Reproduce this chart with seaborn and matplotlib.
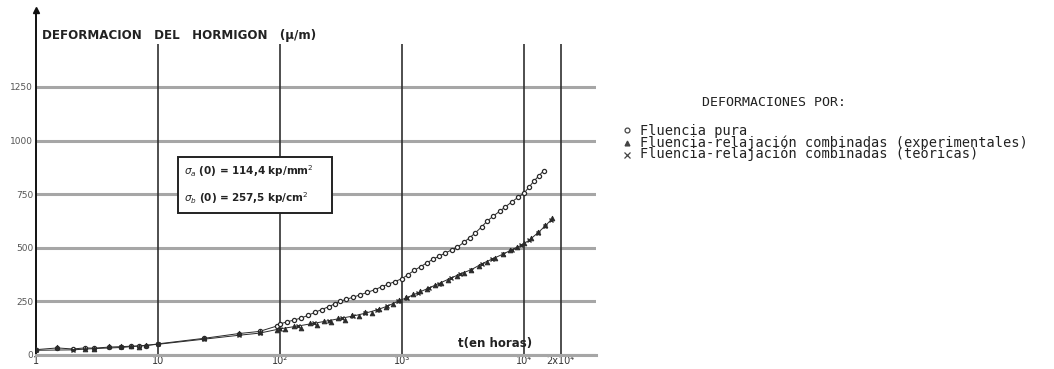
import matplotlib
matplotlib.use("Agg")
import matplotlib.pyplot as plt
import seaborn as sns
import pandas as pd
from matplotlib.patches import Rectangle

# ---- data ----
t_pura = [1, 1.5, 2, 2.5, 3, 4, 5, 6, 7, 8, 10, 24, 46, 68, 94,
          100, 115, 130, 150, 170, 195, 220, 250, 280, 310, 350, 400, 450, 520,
          600, 680, 770, 870, 1000, 1120, 1260, 1420, 1600, 1800, 2000, 2250,
          2550, 2850, 3200, 3600, 4000, 4500, 5000, 5600, 6300, 7000, 7900,
          8900, 10000, 11000, 12000, 13200, 14500]
v_pura = [25, 33, 28, 33, 32, 37, 39, 41, 42, 44, 52, 78, 100, 110, 135,
          145, 155, 163, 173, 185, 200, 212, 225, 238, 250, 260, 270, 280, 292,
          305, 318, 330, 342, 356, 375, 395, 412, 430, 447, 460, 475,
          490, 503, 525, 548, 570, 598, 625, 648, 670, 690, 713,
          735, 755, 783, 810, 835, 860]

t_exp = [1, 1.5, 2.5, 3, 4, 5, 6, 7, 8, 24, 46, 68, 94, 110, 130, 150, 175,
         200, 230, 260, 300, 340, 390, 440, 500, 570, 650, 740, 840, 950,
         1080, 1230, 1400, 1600, 1850, 2100, 2400, 2800, 3200, 3700, 4300,
         5000, 5800, 6700, 7700, 8800, 10000, 11500, 13000, 15000, 17000]
v_exp = [28, 38, 30, 28, 40, 44, 41, 39, 46, 80, 102, 106, 118, 120, 135,
         128, 150, 140, 160, 155, 172, 165, 186, 180, 200, 196, 215, 226,
         236, 255, 270, 285, 298, 310, 325, 338, 352, 368, 382, 395, 415,
         435, 452, 470, 488, 505, 522, 548, 575, 608, 641]

t_teo = [1, 2, 3, 5, 10, 24, 46, 68, 100, 140, 190, 250, 320, 400, 500,
         620, 760, 920, 1100, 1350, 1650, 2000, 2500, 3000, 3700, 4500,
         5500, 6700, 8000, 9500, 11000, 13000, 15000, 16500]
v_teo = [22, 24, 30, 35, 50, 74, 92, 102, 122, 135, 148, 160, 172, 182, 195,
         210, 228, 250, 268, 290, 312, 333, 358, 378, 398, 425,
         448, 470, 492, 512, 535, 570, 603, 628]

x_ticks = [1, 10, 100, 1000, 10000, 20000]
x_tick_labels = ["1", "10", "10²", "10³", "10⁴", "2x10⁴"]
y_ticks = [0, 250, 500, 750, 1000, 1250]
y_tick_labels = ["0", "250", "500", "750", "1000", "1250"]

legend_title = "DEFORMACIONES POR:"
legend_labels = ["Fluencia pura",
                 "Fluencia-relajación combinadas (experimentales)",
                 "Fluencia-relajación combinadas (teóricas)"]

# ---- figure ----
sns.set_theme(style="white")
plt.rcParams['font.family'] = ['DejaVu Sans']
plt.rcParams['mathtext.fontset'] = 'dejavusans'

W, H = 1054, 369
fig = plt.figure(figsize=(W / 100, H / 100), dpi=100)
fig.patch.set_facecolor("white")

def fx(px):
    return px / W

def fy(py):
    return 1 - py / H

ax = fig.add_axes([fx(36), fy(355), fx(596) - fx(36), fy(10) - fy(355)])
ax.set_xscale("log")
ax.set_xlim(1, 10 ** ((596 - 36) / 122.0))
ax.set_ylim(0, 345 / 53.6 * 250)

ink = "#2a2a2a"
df_p = pd.DataFrame({"t": t_pura, "v": v_pura})
df_e = pd.DataFrame({"t": t_exp, "v": v_exp})
df_t = pd.DataFrame({"t": t_teo, "v": v_teo})

sns.lineplot(data=df_p, x="t", y="v", ax=ax, color=ink, lw=0.7,
             marker="o", markersize=3.0, markerfacecolor="white",
             markeredgecolor=ink, markeredgewidth=0.9, estimator=None,
             sort=True, zorder=4)
sns.lineplot(data=df_t, x="t", y="v", ax=ax, color=ink, lw=0.7,
             marker="x", markersize=3.5, markeredgecolor=ink,
             markeredgewidth=1.0, estimator=None, sort=True, zorder=4)
sns.lineplot(data=df_e, x="t", y="v", ax=ax, color=ink, lw=0.0,
             marker="^", markersize=3.4, markerfacecolor=ink,
             markeredgecolor=ink, markeredgewidth=0.6, estimator=None,
             sort=True, zorder=5)

# grid / frame
ax.set_yticks(y_ticks)
ax.set_yticklabels(y_tick_labels, fontsize=6.5, color="#555555")
ax.set_xticks(x_ticks)
ax.set_xticklabels(x_tick_labels, fontsize=7, color="#333333")
ax.minorticks_off()
ax.tick_params(axis="both", length=0)
ax.tick_params(axis="y", pad=2)
ax.tick_params(axis="x", pad=1)
ax.grid(False)
for yv in y_ticks:
    ax.axhline(yv, color="#a6a6a6", lw=2.2, zorder=1)
ax.vlines([10, 100, 1000, 10000, 20000], 0, 1450, color="#303030",
          lw=1.2, zorder=2)
ax.set_xlabel("")
ax.set_ylabel("")
for s in ["top", "right"]:
    ax.spines[s].set_visible(False)
ax.spines["bottom"].set_color("#a6a6a6")
ax.spines["bottom"].set_linewidth(2.2)
ax.spines["left"].set_color("#111111")
ax.spines["left"].set_linewidth(1.4)
ax.plot([0], [1], marker="^", color="#111111", markersize=5,
        transform=ax.transAxes, clip_on=False, zorder=6)

# axis titles
fig.text(fx(42), fy(35), "DEFORMACION   DEL   HORMIGON   (μ/m)",
         fontsize=8.6, weight="bold", va="center", ha="left", color="#222222")
fig.text(fx(458), fy(343), "t(en horas)", fontsize=8.5, weight="bold",
         va="center", ha="left", color="#222222")

# stress box
box = Rectangle((fx(178), fy(213)), fx(332) - fx(178), fy(157) - fy(213),
                transform=fig.transFigure, facecolor="white",
                edgecolor="#222222", lw=1.4, zorder=10)
fig.patches.append(box)
fig.text(fx(184), fy(171), r"$\sigma_a$ (0) = 114,4 kp/mm$^2$", fontsize=7.5,
         weight="bold", va="center", ha="left", color="#222222", zorder=11)
fig.text(fx(184), fy(198), r"$\sigma_b$ (0) = 257,5 kp/cm$^2$", fontsize=7.5,
         weight="bold", va="center", ha="left", color="#222222", zorder=11)

# legend (text block on the right)
fig.text(fx(774), fy(103), legend_title, fontsize=9.5, ha="center",
         va="center", family=["DejaVu Sans Mono"], color="#222222")
mk = ["o", "^", "x"]
ys = [130, 143, 155]
for m, yy in zip(mk, ys):
    fig.lines.append(plt.Line2D([fx(627)], [fy(yy)], marker=m,
                                markersize=3.5 if m != "x" else 4,
                                markerfacecolor="white" if m == "o" else "#444444",
                                markeredgecolor="#444444", markeredgewidth=0.9,
                                linestyle="none", transform=fig.transFigure))
fig.text(fx(640), fy(142.5), "\n".join(legend_labels), fontsize=9.8,
         ha="left", va="center", linespacing=0.78,
         family=["DejaVu Sans Mono"], color="#222222")

fig.savefig("out.png", dpi=100, facecolor="white")
